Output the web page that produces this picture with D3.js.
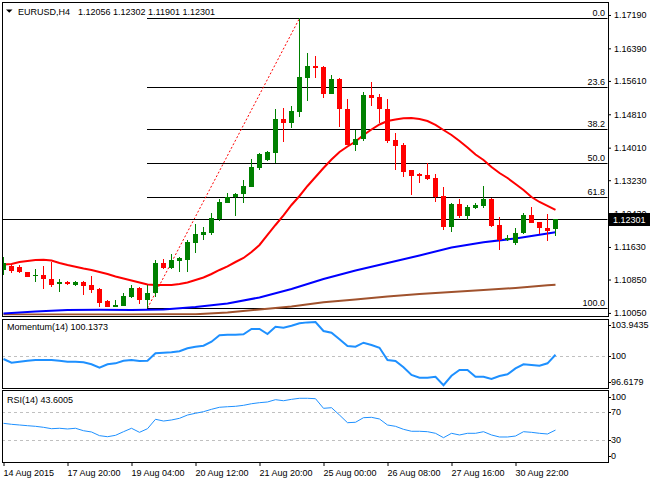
<!DOCTYPE html>
<html><head><meta charset="utf-8">
<script src="https://cdn.jsdelivr.net/npm/d3@7"></script>
<style>
body{margin:0;background:#fff;}
svg text{font-family:"Liberation Sans",Arial,sans-serif;font-size:9px;fill:#000;}
</style></head>
<body>
<svg id="c" width="650" height="480"></svg>
<script>
// ---------- data ----------
const symbolText = "EURUSD,H4";
const ohlcText = "1.12056 1.12302 1.11901 1.12301";
const open = [1.11079,1.11175,1.11151,1.11031,1.10935,1.10959,1.10863,1.10743,1.10791,1.10719,
1.10791,1.10719,1.10623,1.10336,1.10192,1.10217,1.10432,1.10647,1.10360,1.10528,
1.11247,1.11127,1.11294,1.11318,1.11726,1.11918,1.11965,1.12301,1.12684,1.12828,
1.12900,1.13068,1.13523,1.13715,1.13883,1.14697,1.14601,1.14865,1.15680,1.15967,
1.15943,1.15296,1.15656,1.14937,1.14074,1.14218,1.15272,1.15225,1.14937,1.14194,
1.14074,1.13475,1.13379,1.13355,1.13283,1.12852,1.12109,1.12660,1.12373,1.12565,
1.12613,1.12780,1.12157,1.11798,1.11726,1.11965,1.12397,1.12229,1.12085,1.12056];
const high = [1.11390,1.11199,1.11199,1.11035,1.11103,1.11175,1.11270,1.10863,1.10815,1.10815,
1.10815,1.10935,1.10640,1.10360,1.10360,1.10528,1.10719,1.10671,1.10719,1.11318,
1.11342,1.11462,1.11390,1.11798,1.12181,1.12109,1.12445,1.12780,1.12924,1.12924,
1.13235,1.13739,1.13883,1.13920,1.14937,1.14961,1.15009,1.17110,1.16279,1.16207,
1.15967,1.15752,1.15680,1.15177,1.14434,1.15344,1.15584,1.15296,1.15177,1.14362,
1.14122,1.13475,1.13403,1.13643,1.13379,1.13068,1.12680,1.12780,1.12637,1.12684,
1.13092,1.12804,1.12349,1.11918,1.12085,1.12445,1.12589,1.12229,1.12421,1.12302];
const low = [1.10959,1.11007,1.11007,1.10900,1.10791,1.10623,1.10671,1.10552,1.10719,1.10695,
1.10480,1.10528,1.10192,1.10180,1.10185,1.10210,1.10408,1.10264,1.10165,1.10432,
1.11103,1.11103,1.11031,1.11031,1.11486,1.11798,1.11918,1.12253,1.12684,1.12373,
1.12684,1.13068,1.13475,1.13691,1.13643,1.14146,1.14482,1.14745,1.15129,1.15680,
1.15201,1.15296,1.14506,1.14074,1.13930,1.14170,1.15009,1.14601,1.14122,1.13475,
1.13307,1.12876,1.13164,1.13235,1.12708,1.12037,1.11989,1.12325,1.12277,1.12541,
1.12565,1.12109,1.11558,1.11774,1.11678,1.11941,1.12205,1.11941,1.11774,1.11901];
const close = [1.11247,1.11055,1.11031,1.10911,1.10965,1.10863,1.10719,1.10791,1.10743,1.10791,
1.10695,1.10599,1.10288,1.10192,1.10241,1.10456,1.10647,1.10360,1.10528,1.11247,
1.11127,1.11318,1.11366,1.11750,1.11941,1.11989,1.12325,1.12708,1.12828,1.12900,
1.13092,1.13547,1.13859,1.13907,1.14697,1.14601,1.14889,1.15704,1.15967,1.15935,
1.15296,1.15656,1.14937,1.14074,1.14218,1.15272,1.15201,1.14937,1.14170,1.14050,
1.13427,1.13331,1.13331,1.13259,1.12828,1.12109,1.12660,1.12373,1.12589,1.12637,
1.12780,1.12133,1.11798,1.11846,1.11965,1.12397,1.12205,1.12085,1.12013,1.12301];
const redMA = [1.11211,1.11223,1.11270,1.11294,1.11318,1.11326,1.11306,1.11247,1.11199,1.11158,
1.11115,1.11079,1.11031,1.10983,1.10923,1.10875,1.10827,1.10779,1.10731,1.10719,
1.10719,1.10719,1.10743,1.10779,1.10839,1.10899,1.10983,1.11079,1.11163,1.11270,
1.11366,1.11510,1.11678,1.11918,1.12157,1.12385,1.12637,1.12852,1.13092,1.13307,
1.13523,1.13727,1.13907,1.14038,1.14158,1.14314,1.14446,1.14566,1.14649,1.14685,
1.14716,1.14721,1.14697,1.14649,1.14554,1.14434,1.14314,1.14170,1.14014,1.13847,
1.13715,1.13547,1.13403,1.13283,1.13140,1.12996,1.12828,1.12708,1.12613,1.12517];
const slowIdx = [0,4,8,12,16,20,24,28,32,36,40,44,48,52,56,60,64,68,69];
const blueMA = [1.10036,1.10084,1.10120,1.10125,1.10120,1.10132,1.10192,1.10276,1.10420,1.10623,
1.10863,1.11067,1.11247,1.11426,1.11618,1.11743,1.11834,1.11953,1.11982];
const brownMA = [1.10010,1.10010,1.10012,1.10012,1.10014,1.10016,1.10020,1.10060,1.10132,1.10204,
1.10305,1.10372,1.10444,1.10504,1.10552,1.10599,1.10647,1.10712,1.10727];
const momentum = [99.65,99.22,99.34,99.45,99.54,99.54,99.54,99.45,99.34,99.34,
99.27,99.04,98.64,99.04,99.15,99.45,99.54,99.42,99.45,100.31,
100.38,100.43,100.55,100.89,101.08,101.20,101.66,102.40,102.47,102.47,
102.52,103.13,103.13,102.55,103.40,103.28,103.51,103.79,103.90,103.94,
102.90,102.70,101.94,101.16,101.08,101.54,101.28,100.96,99.54,99.42,
98.69,97.80,97.48,97.48,97.60,96.62,97.71,98.38,98.38,97.60,
97.60,97.33,97.68,97.88,98.57,99.04,98.96,98.87,99.15,100.14];
const rsi = [53.3,51.9,50.9,49.9,49.0,47.6,45.6,46.2,45.2,46.2,
42.7,40.9,35.6,34.1,36.1,41.3,46.2,40.4,45.6,59.1,
56.6,58.1,60.5,65.2,67.7,70.0,73.4,76.3,77.1,77.7,
79.1,81.4,82.9,83.9,87.2,85.7,87.7,89.2,89.2,88.6,
74.8,75.7,65.2,54.2,54.8,61.4,61.9,59.5,50.9,49.0,
44.7,41.9,41.9,41.3,39.0,32.7,39.0,36.6,39.0,39.0,
41.3,36.6,33.7,33.7,35.1,41.3,40.4,39.0,38.0,43.6];
const fibLowIdx = 18, fibHighIdx = 37;
const fibLow = 1.10165, fibHigh = 1.17110;
const fibLevels = [0, 23.6, 38.2, 50, 61.8, 100];
const fibLabels = ["0.0","23.6","38.2","50.0","61.8","100.0"];
const priceTicks = [1.17190,1.16390,1.15610,1.14810,1.14010,1.13230,1.12430,1.11630,1.10850,1.10050];
const lastPrice = 1.12301;
const momTicks = [103.9435, 100, 96.6179];
const momLabels = ["103.9435","100","96.6179"];
const momText = "Momentum(14) 100.1373";
const rsiTicks = [100, 70, 30, 0];
const rsiLevels = [70, 30];
const rsiText = "RSI(14) 43.6005";
const timeIdx = [0,8,16,24,32,40,48,56,64];
const timeLabels = ["14 Aug 2015","17 Aug 20:00","19 Aug 04:00","20 Aug 12:00","21 Aug 20:00","25 Aug 00:00","26 Aug 08:00","27 Aug 16:00","30 Aug 22:00"];

// ---------- layout ----------
const L = 2, R = 608;
const main = {t:2, b:316}, mom = {t:318.5, b:388}, rsiP = {t:390, b:461.5};
const svg = d3.select("#c");
const x = d3.scaleLinear().domain([0, 69]).range([3, 555]);
const y = d3.scaleLinear().domain([1.09976, 1.17501]).range([main.b, main.t]);
const ym = d3.scaleLinear().domain([96.288, 104.35]).range([mom.b, mom.t]);
const yr = d3.scaleLinear().domain([0, 100]).range([460.5, 390.75]);
const idx = d3.range(open.length);

const defs = svg.append("defs");
[["cm",main],["cmo",mom],["cr",rsiP]].forEach(([id,p])=>{
  defs.append("clipPath").attr("id",id).append("rect")
    .attr("x",L+0.5).attr("y",p.t+0.5).attr("width",R-L-1).attr("height",p.b-p.t-1);
});

// ---------- main panel ----------
const gm = svg.append("g").attr("clip-path","url(#cm)");
const fibPrice = lv => fibHigh - (fibHigh - fibLow) * lv / 100;
fibLevels.forEach((lv,k)=>{
  const yy = Math.round(y(fibPrice(lv))) + 0.5;
  gm.append("line").attr("x1",x(fibLowIdx)).attr("x2",R).attr("y1",yy).attr("y2",yy)
    .attr("stroke","#000").attr("stroke-width",1);
  gm.append("text").attr("x",605).attr("y",yy-2.5).attr("text-anchor","end").text(fibLabels[k]);
});
gm.append("line").attr("x1",x(fibLowIdx)+0.5).attr("y1",y(fibLow))
  .attr("x2",x(fibHighIdx)+0.5).attr("y2",y(fibHigh))
  .attr("stroke","#ff0000").attr("stroke-width",1).attr("stroke-dasharray","2,2");
const yl = Math.round(y(lastPrice)) + 0.5;
gm.append("line").attr("x1",L).attr("x2",R).attr("y1",yl).attr("y2",yl).attr("stroke","#000").attr("stroke-width",1);

const lineMain = d3.line().x(d=>x(d[0])+0.5).y(d=>y(d[1]));
gm.append("path").attr("d",lineMain(slowIdx.map((k,j)=>[k,brownMA[j]])))
  .attr("fill","none").attr("stroke","#a0522d").attr("stroke-width",2);
gm.append("path").attr("d",lineMain(slowIdx.map((k,j)=>[k,blueMA[j]])))
  .attr("fill","none").attr("stroke","#0000ff").attr("stroke-width",2);
gm.append("path").attr("d",lineMain(idx.map(i=>[i,redMA[i]])))
  .attr("fill","none").attr("stroke","#ff0000").attr("stroke-width",2);

const cg = gm.append("g").attr("shape-rendering","crispEdges");
idx.forEach(i=>{
  const up = close[i] >= open[i];
  const col = up ? "#008000" : "#ff0000";
  const cx = Math.round(x(i));
  cg.append("rect").attr("x",cx).attr("width",1)
    .attr("y",y(high[i])).attr("height",Math.max(1,y(low[i])-y(high[i]))).attr("fill",col);
  const top = y(Math.max(open[i],close[i])), bot = y(Math.min(open[i],close[i]));
  cg.append("rect").attr("x",cx-2).attr("width",5)
    .attr("y",top).attr("height",Math.max(1.5,bot-top)).attr("fill",col);
});

// header
svg.append("path").attr("d","M6,9.5 L12.5,9.5 L9.25,12.8 Z").attr("fill","#000");
svg.append("text").attr("x",18).attr("y",14.5).text(symbolText);
svg.append("text").attr("x",78).attr("y",14.5).text(ohlcText);

// price axis
const pa = svg.append("g").attr("transform",`translate(${R},0)`)
  .call(d3.axisRight(y).tickValues(priceTicks).tickSize(3).tickPadding(3).tickFormat(d3.format(".5f")));
pa.select(".domain").remove();
pa.selectAll("text").style("font-family","Liberation Sans, Arial, sans-serif").style("font-size","9px").attr("fill","#000");
pa.selectAll("line").attr("stroke","#000");
svg.append("rect").attr("x",R+1).attr("y",yl-6.5).attr("width",650-R-1).attr("height",13).attr("fill","#000");
svg.append("text").attr("x",R+5).attr("y",yl+3.3).attr("fill","#fff").style("fill","#fff").text(d3.format(".5f")(lastPrice));

// ---------- momentum ----------
const gmo = svg.append("g").attr("clip-path","url(#cmo)");
gmo.append("line").attr("x1",L).attr("x2",R).attr("y1",Math.round(ym(100))+0.5).attr("y2",Math.round(ym(100))+0.5)
  .attr("stroke","#c0c0c0").attr("stroke-dasharray","3,3");
gmo.append("path").attr("d",d3.line().x(i=>x(i)+0.5).y(i=>ym(momentum[i]))(idx))
  .attr("fill","none").attr("stroke","#1e90ff").attr("stroke-width",2);
svg.append("text").attr("x",7).attr("y",330).text(momText);
momTicks.forEach((v,k)=>{
  const yy = Math.max(mom.t+6.5, Math.min(mom.b-6.5, ym(v)));
  svg.append("line").attr("x1",R).attr("x2",R+3).attr("y1",Math.round(yy)+0.5).attr("y2",Math.round(yy)+0.5).attr("stroke","#000");
  svg.append("text").attr("x",R+3).attr("y",yy+3.3).text(momLabels[k]);
});

// ---------- RSI ----------
const gr = svg.append("g").attr("clip-path","url(#cr)");
rsiLevels.forEach(v=>{
  const yy = Math.round(yr(v))+0.5;
  gr.append("line").attr("x1",L).attr("x2",R).attr("y1",yy).attr("y2",yy)
    .attr("stroke","#c0c0c0").attr("stroke-dasharray","3,3");
});
gr.append("path").attr("d",d3.line().x(i=>x(i)+0.5).y(i=>yr(rsi[i]))(idx))
  .attr("fill","none").attr("stroke","#1e90ff").attr("stroke-width",1);
svg.append("text").attr("x",7).attr("y",402.5).text(rsiText);
rsiTicks.forEach(v=>{
  const yy = Math.max(rsiP.t+6.5, Math.min(rsiP.b-6, yr(v)));
  svg.append("line").attr("x1",R).attr("x2",R+3).attr("y1",Math.round(yy)+0.5).attr("y2",Math.round(yy)+0.5).attr("stroke","#000");
  svg.append("text").attr("x",R+3).attr("y",yy+3.3).text(String(v));
});

// ---------- frames ----------
[main,mom,rsiP].forEach(p=>{
  svg.append("rect").attr("x",L+0.5).attr("y",p.t+0.5).attr("width",R-L).attr("height",p.b-p.t)
    .attr("fill","none").attr("stroke","#000").attr("stroke-width",1).attr("shape-rendering","crispEdges");
});

// ---------- time axis ----------
const ta = svg.append("g").attr("transform",`translate(0,${rsiP.b+0.5})`)
  .call(d3.axisBottom(x).tickValues(timeIdx).tickSize(4).tickPadding(4).tickFormat((d,k)=>timeLabels[k]));
ta.select(".domain").remove();
ta.selectAll("line").attr("stroke","#000").attr("transform","translate(0.5,0)");
ta.selectAll("text").attr("text-anchor","start").attr("fill","#000")
  .style("font-family","Liberation Sans, Arial, sans-serif").style("font-size","9px");
</script>
</body></html>
